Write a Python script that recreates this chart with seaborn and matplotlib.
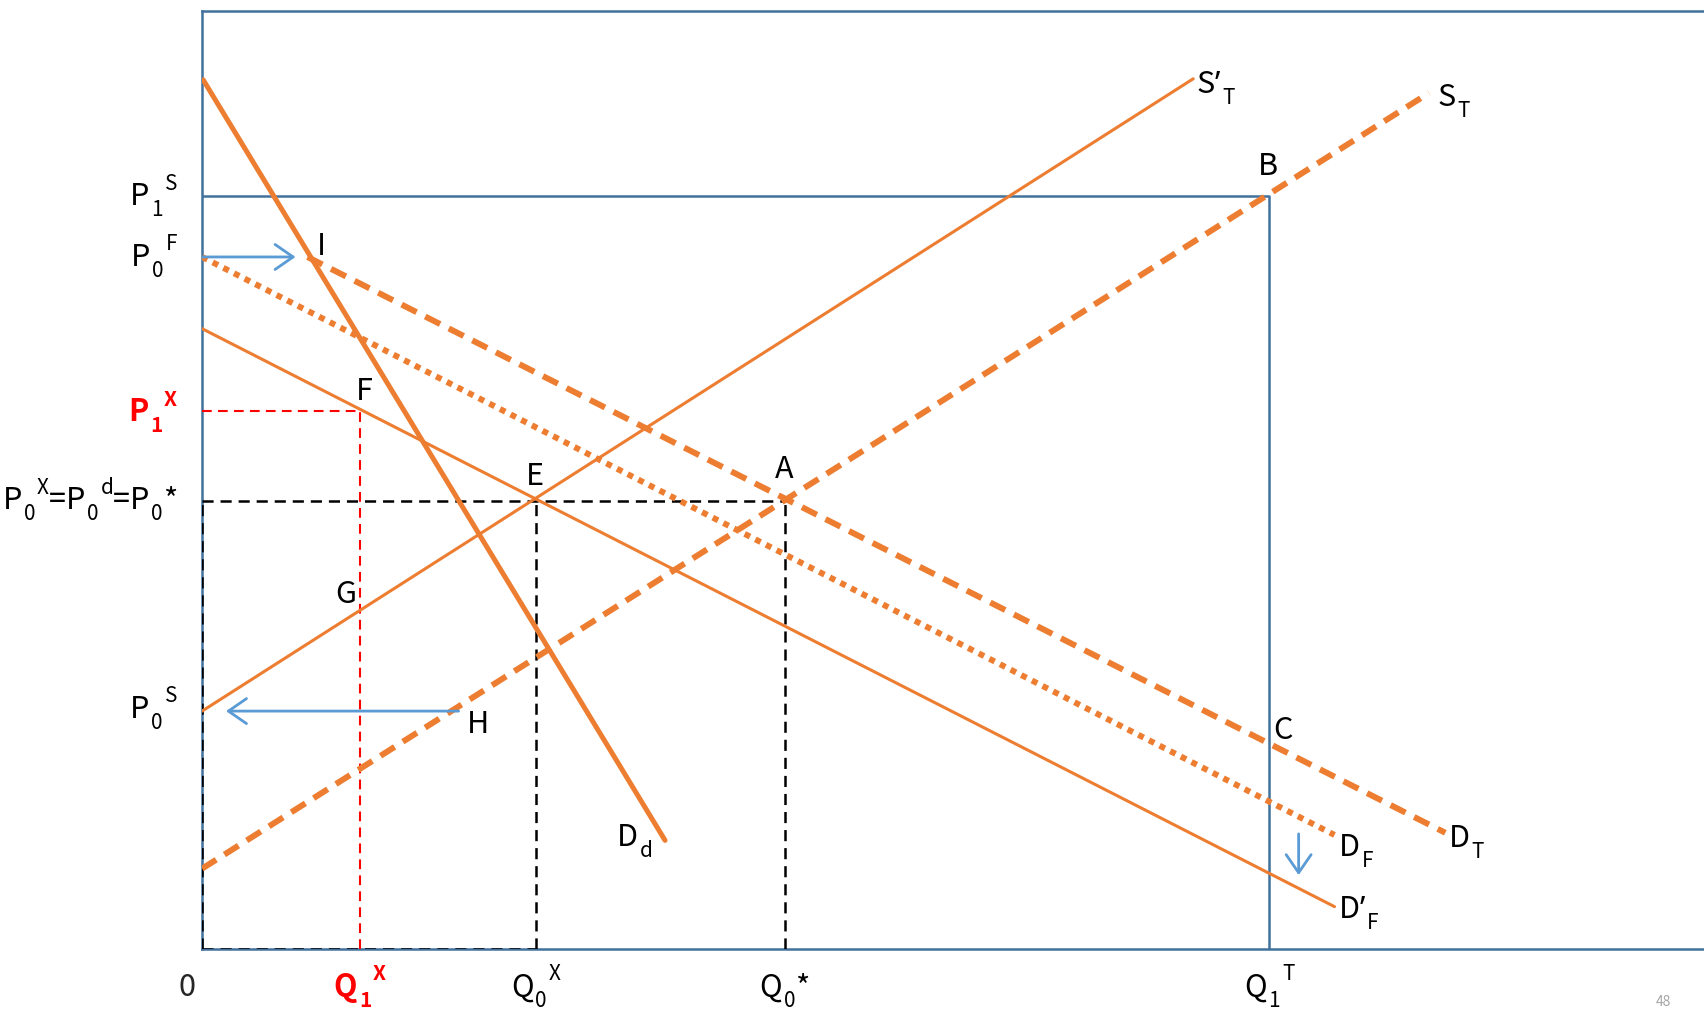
import matplotlib
matplotlib.use("Agg")
import matplotlib.pyplot as plt
import seaborn as sns
from matplotlib.patches import FancyArrowPatch

# ---------------- data (chart units) ----------------
# label tokens (text, kind): n=normal, b=subscript, p=superscript, q=apostrophe
q_tokens = [[("Q", "n"), ("1", "b"), ("X", "p")],
            [("Q", "n"), ("0", "b"), ("X", "p")],
            [("Q", "n"), ("0", "b"), ("*", "n")],
            [("Q", "n"), ("1", "b"), ("T", "p")]]
q_values = [14.5, 30.7, 53.6, 98.2]
q_colors = ["#FF0000", "black", "black", "black"]

# key prices on the y axis
p_tokens = [[("P", "n"), ("1", "b"), ("S", "p")],
            [("P", "n"), ("0", "b"), ("F", "p")],
            [("P", "n"), ("1", "b"), ("X", "p")],
            [("P", "n"), ("0", "b"), ("X", "p"), ("=", "n"), ("P", "n"), ("0", "b"),
             ("d", "p"), ("=", "n"), ("P", "n"), ("0", "b"), ("*", "n")],
            [("P", "n"), ("0", "b"), ("S", "p")]]
p_values = [69.3, 63.7, 49.5, 41.2, 21.9]
p_baselines = [68.5, 62.9, 48.6, 40.5, 21.3]
p_colors = ["black", "black", "#FF0000", "black", "black"]

# curves (end points)
Dd_x, Dd_y = [0.1, 42.6], [80.0, 10.0]          # domestic demand D_d
STp_x, STp_y = [0.0, 91.2], [21.9, 80.1]        # S'_T
ST_x, ST_y = [0.0, 112.9], [7.4, 78.8]          # S_T
DT_x, DT_y = [9.7, 114.4], [63.7, 10.7]         # D_T
DF_x, DF_y = [0.0, 104.2], [63.7, 10.5]         # D_F
DFp_x, DFp_y = [0.0, 104.2], [57.1, 3.9]        # D'_F

# point labels
pt_names = ["I", "F", "E", "A", "G", "H", "C", "B"]
pt_x = [11.0, 14.9, 30.6, 53.6, 13.2, 25.4, 99.5, 98.1]
pt_y = [64.7, 51.3, 43.5, 44.1, 32.6, 20.7, 20.1, 72.0]

# curve-end labels
cl_tokens = [[("S", "n"), ("’", "q"), ("T", "b")],
             [("S", "n"), ("T", "b")],
             [("D", "n"), ("d", "b")],
             [("D", "n"), ("T", "b")],
             [("D", "n"), ("F", "b")],
             [("D", "n"), ("’", "q"), ("F", "b")]]
cl_x = [91.5, 113.7, 38.2, 114.7, 104.6, 104.6]
cl_y = [78.8, 77.6, 9.5, 9.4, 8.6, 2.9]

# arrows (start, end)
arrows = [((0.0, 63.7), (8.6, 63.7)),
          ((23.6, 21.9), (2.2, 21.9)),
          ((100.9, 10.6), (100.9, 6.8))]

XMAX, YMAX = 138.2, 86.3

# ---------------- style ----------------
sns.set_theme(style="white")
plt.rcParams["font.family"] = ["Noto Sans CJK TC", "DejaVu Sans"]
plt.rcParams["lines.scale_dashes"] = False

ORANGE = "#ED7D31"
BLUE = "#5B9BD5"
FRAME = "#41719C"
FS = 22

fig = plt.figure(figsize=(17.04, 10.11), dpi=100)
ax = fig.add_axes([0.1186, 0.0613, 0.8814, 0.9274])
ax.set_xlim(0, XMAX)
ax.set_ylim(0, YMAX)
ax.set_xticks([])
ax.set_yticks([])
for side in ["left", "bottom", "top"]:
    ax.spines[side].set_color(FRAME)
    ax.spines[side].set_linewidth(1.8)
ax.spines["right"].set_visible(False)


def seg(xs, ys, **kw):
    sns.lineplot(x=xs, y=ys, ax=ax, estimator=None, sort=False,
                 legend=False, **kw)


# blue rectangle P1S / Q1T
seg([0, q_values[3], q_values[3]], [p_values[0], p_values[0], 0],
    color=FRAME, linewidth=1.8, zorder=2)

# black dashed guides
blk = dict(color="black", linewidth=1.8, linestyle=(0, (8, 5)), zorder=3)
seg([0, q_values[2]], [p_values[3], p_values[3]], **blk)
seg([q_values[1], q_values[1]], [0, p_values[3]], **blk)
seg([q_values[2], q_values[2]], [0, p_values[3]], **blk)
seg([0, 0], [0, p_values[3]], **blk)
seg([0, q_values[1]], [0, 0], **blk)

# red dashed guides
red = dict(color="#FF0000", linewidth=1.5, linestyle=(0, (7, 4.5)), zorder=3)
seg([0, q_values[0]], [p_values[2], p_values[2]], **red)
seg([q_values[0], q_values[0]], [0, p_values[2]], **red)

# orange curves
seg(Dd_x, Dd_y, color=ORANGE, linewidth=3.6, zorder=4)
seg(STp_x, STp_y, color=ORANGE, linewidth=2.2, zorder=4)
seg(DFp_x, DFp_y, color=ORANGE, linewidth=2.2, zorder=4)
seg(ST_x, ST_y, color=ORANGE, linewidth=4.3, linestyle=(0, (12, 7)), zorder=4)
seg(DT_x, DT_y, color=ORANGE, linewidth=4.3, linestyle=(0, (12, 7)), zorder=4)
seg(DF_x, DF_y, color=ORANGE, linewidth=4.3, linestyle=(0, (4.3, 4.3)), zorder=4)

# blue arrows
for (x0, y0), (x1, y1) in arrows:
    ax.add_patch(FancyArrowPatch((x0, y0), (x1, y1),
                                 arrowstyle="->,head_length=0.65,head_width=0.45",
                                 mutation_scale=20, color=BLUE, linewidth=2.0,
                                 shrinkA=0, shrinkB=0, zorder=5))

# ---------------- composite labels with sub/superscripts ----------------
renderer = fig.canvas.get_renderer()
SUBSCALE = 0.68
LATIN = ["Noto Sans", "DejaVu Sans"]


def width_pt(s, size, weight, family):
    t = fig.text(0, 0, s, fontsize=size, fontweight=weight, family=family)
    w = t.get_window_extent(renderer).width * 72.0 / fig.dpi
    t.remove()
    return w


def rich(x, y, tokens, ha="left", color="black", weight="normal", fs=FS):
    pieces = []
    cursor = 0.0
    base_family = plt.rcParams["font.family"]
    for s, kind in tokens:
        size = fs if kind in ("n", "q") else fs * SUBSCALE
        family = LATIN if kind == "q" else base_family
        gap = fs * 0.06 if kind in ("b", "p") else 0.0
        dy = {"n": 0.0, "q": 0.0, "b": -0.36 * fs, "p": 0.50 * fs}[kind]
        w = width_pt(s, size, weight, family)
        pieces.append((s, cursor + gap, dy, size, family))
        cursor += gap + w
    start = {"left": 0.0, "right": -cursor, "center": -cursor / 2}[ha]
    for s, dx, dy, size, family in pieces:
        ax.annotate(s, xy=(x, y), xycoords="data", xytext=(start + dx, dy),
                    textcoords="offset points", fontsize=size, fontweight=weight,
                    family=family, color=color, ha="left", va="baseline",
                    annotation_clip=False, zorder=6)


# point labels
for t, x, y in zip(pt_names, pt_x, pt_y):
    ax.text(x, y, t, fontsize=FS, ha="center", va="center", color="black", zorder=6)

# curve labels
for toks, x, y in zip(cl_tokens, cl_x, cl_y):
    rich(x, y, toks, ha="left")

# y-axis labels
for toks, y, c in zip(p_tokens, p_baselines, p_colors):
    rich(-2.3, y, toks, ha="right", color=c,
         weight="bold" if c != "black" else "normal")

# x-axis labels
for toks, x, c in zip(q_tokens, q_values, q_colors):
    rich(x, -4.3, toks, ha="center", color=c,
         weight="bold" if c != "black" else "normal")
ax.text(-1.4, -4.3, "0", fontsize=FS, ha="center", va="baseline", clip_on=False)

fig.text(0.976, 0.002, "48", fontsize=10, color="#A6A6A6", ha="center", va="bottom")

fig.savefig("out.png", dpi=100)
